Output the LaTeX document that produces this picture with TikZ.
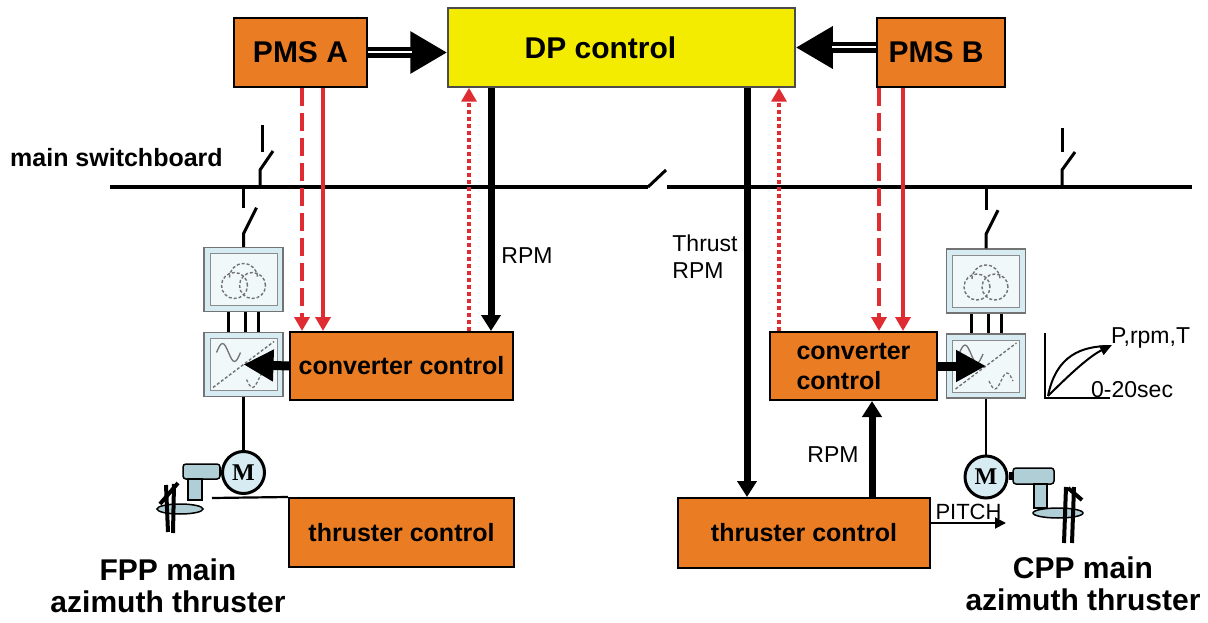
\documentclass[tikz,border=0pt]{standalone}
\usepackage{fontspec}
\setmainfont{Liberation Sans}
\newfontfamily\motorfont{Liberation Serif}
\usepackage{tikz}
\usetikzlibrary{arrows.meta, calc, shapes.geometric}
\definecolor{pmsorange}{RGB}{234,125,36}
\definecolor{dpyellow}{RGB}{243,235,0}
\definecolor{sigred}{RGB}{222,44,50}
\definecolor{iconblue}{RGB}{214,236,242}
\definecolor{podblue}{RGB}{176,206,214}
\tikzstyle{orangebox} = [
    rectangle,
    draw = black,
    line width = 2pt,
    fill = pmsorange,
    text centered,
    inner sep = 0pt,
    font = \bfseries\fontsize{25}{30}\selectfont,
]
\tikzstyle{yellowbox} = [
    rectangle,
    draw = black!70,
    line width = 1.5pt,
    fill = dpyellow,
    text centered,
    inner sep = 0pt,
    font = \bfseries\fontsize{30}{36}\selectfont,
]
\tikzstyle{iconbox} = [
    rectangle,
    draw = black!55,
    line width = 1.5pt,
    fill = iconblue,
    minimum width = 79pt,
    minimum height = 64pt,
    inner sep = 0pt,
]
\tikzstyle{trafo} = [iconbox, path picture = {
    \draw[black!45, line width = 1pt, fill = white!65!iconblue] ($(path picture bounding box.north west) + (6, 6)$) rectangle ($(path picture bounding box.south east) + (-6, -6)$);
    \draw[densely dashed, line width = 1.4pt] ($(path picture bounding box.center) + (-9, 6)$) circle (13pt);
    \draw[densely dashed, line width = 1.4pt] ($(path picture bounding box.center) + (9, 6)$) circle (13pt);
    \draw[densely dashed, line width = 1.4pt] ($(path picture bounding box.center) + (-14, -2)$) arc (180:0:14pt);
}]
\tikzstyle{converter} = [iconbox, path picture = {
    \draw[black!45, line width = 1pt, fill = white!65!iconblue] ($(path picture bounding box.north west) + (6, 6)$) rectangle ($(path picture bounding box.south east) + (-6, -6)$);
    \draw[densely dashed, line width = 1.4pt] ($(path picture bounding box.south west) + (9, -9)$) -- ($(path picture bounding box.north east) + (-9, 9)$);
    \draw[line width = 1.3pt] ($(path picture bounding box.center) + (-27, -12)$) sin ++(6, -9) cos ++(6, 9) sin ++(6, 9) cos ++(6, -9);
    \draw[densely dashed, line width = 1.3pt] ($(path picture bounding box.center) + (3, 15)$) sin ++(6, 8) cos ++(6, -8) sin ++(6, -8) cos ++(6, 8);
}]
\tikzstyle{motor} = [
    circle,
    draw = black,
    line width = 3pt,
    fill = iconblue,
    minimum size = 42pt,
    inner sep = 0pt,
    font = \motorfont\bfseries\fontsize{24}{24}\selectfont,
]
\tikzstyle{bus} = [line width = 4pt]
\tikzstyle{feeder} = [line width = 3pt]
\tikzstyle{thinline} = [line width = 2.2pt]
\tikzstyle{bigarrow} = [line width = 11pt, -{Triangle[length = 37pt, width = 40pt]}]
\tikzstyle{convarrow} = [line width = 9pt, -{Triangle[length = 30pt, width = 30pt]}]
\tikzstyle{rpmarrow} = [line width = 7pt, -{Triangle[length = 16pt, width = 19pt]}]
\tikzstyle{redline} = [draw = sigred, line width = 4pt, -{Triangle[length = 14pt, width = 15pt]}]
\tikzstyle{reddash} = [redline, dash pattern = on 18pt off 7pt]
\tikzstyle{reddot} = [redline, line width = 4.5pt, dash pattern = on 4pt off 3pt]
\tikzstyle{pitcharrow} = [line width = 2pt, -{Triangle[length = 11pt, width = 11pt]}]
\tikzstyle{signaltext} = [inner sep = 0pt, font = \fontsize{23}{27}\selectfont]
\tikzstyle{thrustertext} = [inner sep = 0pt, align = center, font = \bfseries\fontsize{30}{32}\selectfont]
\tikzstyle{pod} = [draw = black, line width = 1.5pt, fill = podblue]
\tikzstyle{blade} = [line width = 4pt]

\begin{document}
\begin{tikzpicture} [x = 1pt, y = -1pt]
    \useasboundingbox (0, 0) rectangle (1208, 623);

    % main switchboard
    \coordinate (BusWest) at (110, 187);
    \coordinate (BusTieL) at (648, 187);
    \coordinate (BusTieR) at (667, 187);
    \coordinate (BusEast) at (1192, 187);
    \draw[bus] (BusWest) -- (BusTieL);
    \draw[bus] (BusTieR) -- (BusEast);
    \draw[feeder] (BusTieL) -- ++(18, -17);
    \node (Switchboard) [anchor = west, inner sep = 0pt, font = \bfseries\fontsize{25}{30}\selectfont] at (10, 158) {main switchboard};

    % generator breakers
    \draw[feeder] (262, 125) -- (262, 152);
    \draw[feeder] (260, 187) -- (260, 170) -- (273, 151);
    \draw[feeder] (1062, 128) -- (1062, 152);
    \draw[feeder] (1062, 187) -- (1062, 170) -- (1075, 152);

    % control boxes
    \node (DPControl) [yellowbox, minimum width = 347pt, minimum height = 79pt] at (621.5, 47.5) {\hspace*{-42pt}DP control};
    \node (PMSA) [orangebox, minimum width = 133pt, minimum height = 69pt, font = \bfseries\fontsize{30}{36}\selectfont] at (300.5, 52.5) {PMS A};
    \node (PMSB) [orangebox, minimum width = 128pt, minimum height = 69pt, font = \bfseries\fontsize{30}{36}\selectfont] at (941, 52.5) {\hspace*{-10pt}PMS B};
    \node (ConvCtrlA) [orangebox, minimum width = 223pt, minimum height = 68pt] at (401.5, 366) {converter control};
    \node (ThrCtrlA) [orangebox, minimum width = 225pt, minimum height = 69pt] at (401.5, 532.5) {thruster control};
    \node (ConvCtrlB) [orangebox, minimum width = 167pt, minimum height = 68pt, align = left] at (853.5, 366) {converter\\control};
    \node (ThrCtrlB) [orangebox, minimum width = 252pt, minimum height = 70pt] at (804, 533) {thruster control};

    % drives
    \node (TrafoA) [trafo] at (243.5, 279.5) {};
    \node (ConvA) [converter, node distance = 85pt, below of = TrafoA] {};
    \node (MotorA) [motor, node distance = 108pt, below of = ConvA] {M};
    \node (TrafoB) [trafo] at (986, 281) {};
    \node (ConvB) [converter, node distance = 85pt, below of = TrafoB] {};
    \node (MotorB) [motor, node distance = 111pt, below of = ConvB] {M};

    % feeder breakers
    \draw[feeder] (TrafoA.north |- BusWest) -- ++(0, 21);
    \draw[feeder] (TrafoA.north) -- ++(0, -13) -- ++(13, -26);
    \draw[feeder] (TrafoB.north |- BusEast) -- ++(0, 23);
    \draw[feeder] (TrafoB.north) -- ++(0, -14) -- ++(12, -24);

    \draw[feeder] ($(TrafoA.south) + (-15, 0)$) -- ($(ConvA.north) + (-15, 0)$);
    \draw[feeder] ($(TrafoA.south) + (2, 0)$) -- ($(ConvA.north) + (2, 0)$);
    \draw[feeder] ($(TrafoA.south) + (15, 0)$) -- ($(ConvA.north) + (15, 0)$);
    \draw[feeder] ($(TrafoB.south) + (-15, 0)$) -- ($(ConvB.north) + (-15, 0)$);
    \draw[feeder] ($(TrafoB.south) + (2, 0)$) -- ($(ConvB.north) + (2, 0)$);
    \draw[feeder] ($(TrafoB.south) + (15, 0)$) -- ($(ConvB.north) + (15, 0)$);
    \draw[thinline] (ConvA.south) -- (MotorA.north);
    \draw[thinline] (ConvB.south) -- (MotorB.north);

    % PMS to DP
    \draw[bigarrow] (PMSA.east) -- (PMSA.east -| DPControl.west);
    \draw[white, line width = 2pt] (PMSA.east) -- ++(44, 0);
    \coordinate (PMSBOut) at ($(PMSB.west) + (0, -5)$);
    \draw[bigarrow] (PMSBOut) -- (PMSBOut -| DPControl.east);
    \draw[white, line width = 2pt] (PMSBOut) -- ++(-44, 0);

    % power limits
    \coordinate (PowerLimitA) at ($(PMSA.south) + (1.5, 0)$);
    \coordinate (PowerAvailA) at ($(PMSA.south) + (22.5, 0)$);
    \draw[reddash] (PowerLimitA) -- (PowerLimitA |- ConvCtrlA.north);
    \draw[redline] (PowerAvailA) -- (PowerAvailA |- ConvCtrlA.north);
    \coordinate (PowerLimitB) at ($(PMSB.south) + (-62, 0)$);
    \coordinate (PowerAvailB) at ($(PMSB.south) + (-38, 0)$);
    \draw[reddash] (PowerLimitB) -- (PowerLimitB |- ConvCtrlB.north);
    \draw[redline] (PowerAvailB) -- (PowerAvailB |- ConvCtrlB.north);

    % feedback to DP
    \coordinate (FeedbackA) at ($(ConvCtrlA.north) + (67.5, 0)$);
    \draw[reddot] (FeedbackA) -- (FeedbackA |- DPControl.south);
    \coordinate (FeedbackB) at ($(ConvCtrlB.north) + (-74.5, 0)$);
    \draw[reddot] (FeedbackB) -- (FeedbackB |- DPControl.south);

    % setpoints
    \coordinate (SetpointA) at ($(DPControl.south) + (-130.5, 0)$);
    \draw[rpmarrow] (SetpointA) -- (SetpointA |- ConvCtrlA.north);
    \node (RPMA) [signaltext] at (527, 256) {RPM};
    \coordinate (SetpointB) at ($(DPControl.south) + (125.5, 0)$);
    \draw[rpmarrow] (SetpointB) -- (SetpointB |- ThrCtrlB.north);
    \node (ThrustRPM) [signaltext, align = left] at (705, 257) {Thrust\\RPM};
    \coordinate (RPMFeedB) at ($(ThrCtrlB.north) + (68, 0)$);
    \draw[rpmarrow] (RPMFeedB) -- (RPMFeedB |- ConvCtrlB.south);
    \node (RPMB) [signaltext] at (833, 455) {RPM};

    \draw[convarrow] (ConvCtrlA.west) -- (ConvA.center);
    \draw[convarrow] (ConvCtrlB.east) -- (ConvB.center);

    % ramp
    \coordinate (RampOrigin) at (1045, 398);
    \draw[line width = 2pt] (1045, 333) -- (RampOrigin) -- (1110, 398);
    \draw[line width = 2pt] ($(RampOrigin) + (3, -2)$) .. controls (1056, 355) and (1082, 346) .. (1110, 346);
    \draw[line width = 2pt, -{Triangle[length = 12pt, width = 10pt]}] ($(RampOrigin) + (3, -2)$) .. controls (1072, 372) and (1090, 356) .. (1112, 345);
    \node (RampValue) [signaltext, anchor = west] at (1111, 338) {P,rpm,T};
    \node (RampTime) [signaltext, anchor = west] at (1091, 390) {0-20sec};

    % FPP thruster
    \coordinate (FPPPod) at (212, 498);
    \draw[pod, rounded corners = 3pt] (183, 464) rectangle (220, 479);
    \fill (219, 467) rectangle (MotorA.west |- 0, 476);
    \draw[pod] (188, 479) rectangle (202, 500);
    \draw[pod] (180, 509) ellipse (23pt and 5pt);
    \draw[blade] (166, 485) -- (168, 532);
    \draw[blade] (174, 484) -- (173, 533);
    \draw[blade] (160, 504) -- (178, 483);
    \draw[thinline] (FPPPod) -- (ThrCtrlA.north west);
    \node (FPPLabel) [thrustertext] at (168, 586) {FPP main\\azimuth thruster};

    % CPP thruster
    \coordinate (CPPPod) at (1006, 523);
    \draw[pod, rounded corners = 3pt] (1013, 468) rectangle (1054, 484);
    \fill (MotorB.east |- 0, 472) rectangle (1014, 480);
    \draw[pod] (1034, 484) rectangle (1047, 508);
    \draw[pod] (1058, 513) ellipse (25pt and 5pt);
    \draw[blade] (1066, 487) -- (1064, 543);
    \draw[blade] (1074, 487) -- (1072, 543);
    \draw[blade] (1082, 500) -- (1068, 488);
    \draw[pitcharrow] ($(ThrCtrlB.east) + (0, -10)$) -- (CPPPod) node [signaltext, midway, above = 2pt, font = \fontsize{22}{26}\selectfont] (PitchLabel) {PITCH};
    \node (CPPLabel) [thrustertext] at (1083, 584) {CPP main\\azimuth thruster};
\end{tikzpicture}
\end{document}
